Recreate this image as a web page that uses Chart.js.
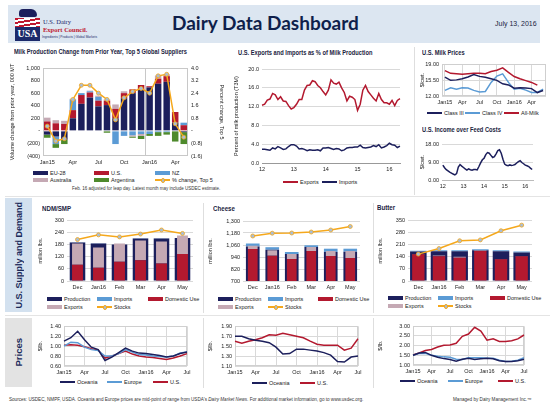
<!DOCTYPE html>
<html><head><meta charset="utf-8">
<script src="https://cdn.jsdelivr.net/npm/chart.js@4.4.1/dist/chart.umd.min.js"></script>
<style>
html,body{margin:0;padding:0}
body{width:553px;height:413px;position:relative;overflow:hidden;background:#fff;font-family:'Liberation Sans Narrow','Arial Narrow','Liberation Sans',Arial,sans-serif;color:#222}
.a{position:absolute;white-space:nowrap}
canvas{position:absolute}
.t{font-weight:bold;font-size:6.5px;color:#1b2340;line-height:8px;transform:scaleX(0.88);transform-origin:0 50%}
.lg{font-size:5.5px;line-height:6px;color:#222}
.sw{position:absolute}
</style></head><body>
<!-- header -->
<div class="a" style="left:8px;top:5px;width:532px;height:38px;background:#dce6f1"></div>
<div class="a" style="left:19px;top:9px;width:18px;height:8px;background:#1c1f5c;border-radius:4px 6px 2px 2px"></div>
<div class="a" style="left:15px;top:18px;width:25px;height:9px;background:repeating-linear-gradient(170deg,#c0182f 0 2px,#fff 2px 4px)"></div>
<div class="a" style="left:15px;top:27px;width:25px;height:14px;background:#1c2a6b;color:#fff;font:bold 10px 'Liberation Serif',serif;text-align:center;line-height:14px">USA</div>
<div class="a" style="left:43px;top:18px;font:6.5px 'Liberation Serif',serif;color:#1c2a6b">U.S. Dairy</div>
<div class="a" style="left:43px;top:26px;font:bold 6.5px 'Liberation Serif',serif;color:#c0182f">Export Council.</div>
<div class="a" style="left:42px;top:35px;font-size:3.2px;color:#1c2a6b">Ingredients | Products | Global Markets</div>
<div class="a" style="left:172px;top:11px;font-family:Lato,'Open Sans',sans-serif;font-weight:bold;font-size:19px;color:#0f1f4b">Dairy Data Dashboard</div>
<div class="a" style="left:495px;top:20px;font-size:7px;color:#1b2340">July 13, 2016</div>

<!-- separators -->
<div class="a" style="left:414px;top:47px;width:1px;height:148px;background:#dedede"></div>
<div class="a" style="left:5px;top:196px;width:545px;height:1px;background:#e4e4e4"></div>
<div class="a" style="left:5px;top:315px;width:545px;height:1px;background:#e4e4e4"></div>
<div class="a" style="left:203px;top:203px;width:1px;height:110px;background:#dedede"></div>
<div class="a" style="left:373px;top:203px;width:1px;height:110px;background:#dedede"></div>
<div class="a" style="left:203px;top:318px;width:1px;height:70px;background:#dedede"></div>
<div class="a" style="left:373px;top:318px;width:1px;height:70px;background:#dedede"></div>

<!-- section boxes -->
<div class="a" style="left:5px;top:198px;width:27px;height:114px;background:#d3e1ef"></div>
<div class="a" style="left:5px;top:198px;width:27px;height:114px;display:flex;align-items:center;justify-content:center"><div style="writing-mode:vertical-rl;transform:rotate(180deg);font-weight:bold;font-size:9px;color:#1b2a5a">U.S. Supply and Demand</div></div>
<div class="a" style="left:5px;top:318px;width:27px;height:69px;background:#e3e3e3"></div>
<div class="a" style="left:5px;top:318px;width:27px;height:69px;display:flex;align-items:center;justify-content:center"><div style="writing-mode:vertical-rl;transform:rotate(180deg);font-weight:bold;font-size:9.5px;color:#1b2a5a">Prices</div></div>

<!-- titles -->
<div class="a t" style="left:14px;top:48px">Milk Production Change from Prior Year, Top 5 Global Suppliers</div>
<div class="a t" style="left:238px;top:49px">U.S. Exports and Imports as % of Milk Production</div>
<div class="a t" style="left:422px;top:49px">U.S. Milk Prices</div>
<div class="a t" style="left:422px;top:126px">U.S. Income over Feed Costs</div>
<div class="a t" style="left:42px;top:205px;font-size:7px">NDM/SMP</div>
<div class="a t" style="left:213px;top:205px;font-size:7px">Cheese</div>
<div class="a t" style="left:377px;top:204px;font-size:7px">Butter</div>
<div class="a" style="left:72px;top:186px;font-size:4.5px;color:#333">Feb. 16 adjusted for leap day. Latest month may include USDEC estimate.</div>

<!-- footer -->
<div class="a" style="left:9px;top:397px;font-size:4.6px;color:#333">Sources: USDEC, NMPF, USDA. Oceania and Europe prices are mid-point of range from USDA's <i>Dairy Market News</i>. For additional market information, go to www.usdec.org.</div>
<div class="a" style="left:453px;top:397px;font-size:4.6px;color:#333">Managed by Dairy Management Inc.™</div>

<script>
// ================= DATA =================
const MON = ['Jan','Feb','Mar','Apr','May','Jun','Jul','Aug','Sep','Oct','Nov','Dec'];

// 1. Milk production change from prior year (000 MT), Jan15..May16
const prodMonths = ['Jan15','Feb','Mar','Apr','May','Jun','Jul','Aug','Sep','Oct','Nov','Dec','Jan16','Feb','Mar','Apr','May'];
const prodTicks  = ['Jan15','','','Apr','','','Jul','','','Oct','','','Jan16','','','Apr',''];
const prodEU  = [-60,-90,-140,200,430,530,390,410,200,520,600,650,690,750,780,130,-20];
const prodUS  = [150,120,110,130,140,80,90,70,150,80,60,80,20,80,90,170,90];
const prodNZ  = [0,-120,0,170,30,20,60,0,-210,-80,-70,-50,-50,-20,-20,0,40];
const prodAUS = [60,50,50,10,0,10,20,20,70,30,-20,-30,0,50,30,0,0];
const prodARG = [-50,-60,-70,0,0,0,0,-30,0,0,-20,-50,-30,-60,-40,-170,-190];
const prodPct = [0.3,-0.65,-0.5,2.0,2.9,2.9,2.4,2.0,0.7,2.1,2.5,2.7,2.4,3.5,3.6,0.45,-0.4];

// 2. Exports / imports as % of milk production (T3M), Jan12..May16
const tradeYears = ['12','13','14','15','16'];
const exportsPct = [12.3,12.5,13.4,13.6,14.8,14.5,13.5,14.1,13.2,13.1,12.2,11.5,
  11.8,12.5,13.5,13.5,15.5,16.5,16.6,17.5,17.3,16.5,16.0,15.2,
  14.5,15.5,17.7,17.0,16.8,17.2,16.0,15.0,13.2,14.2,14.0,13.5,
  11.2,12.5,15.5,16.5,15.2,14.5,13.8,13.2,14.8,13.5,12.8,12.8,
  12.5,13.3,12.2,13.3,13.7];
const importsPct = [2.9,2.9,2.8,2.7,3.2,3.0,3.5,3.2,2.9,3.0,3.5,3.9,
  3.9,3.6,3.0,3.1,2.9,2.6,2.8,2.7,2.7,2.8,2.6,3.2,
  3.2,3.3,3.1,2.9,3.1,3.0,2.6,2.8,3.2,3.3,3.3,3.4,
  3.4,3.8,3.3,3.2,3.3,3.4,3.7,3.5,3.9,3.2,3.4,3.7,
  4.2,3.9,3.8,3.3,3.6];

// 3. U.S. milk prices ($/cwt), Jan15..Jun16
const mpMonths = ['Jan15','Feb','Mar','Apr','May','Jun','Jul','Aug','Sep','Oct','Nov','Dec','Jan16','Feb','Mar','Apr','May','Jun'];
const mpTicks  = ['Jan15','','','Apr','','','Jul','','','Oct','','','Jan16','','','Apr','',''];
const classIII = [16.18,15.46,15.56,15.81,16.19,16.72,16.33,16.14,15.82,15.46,14.69,14.44,13.72,13.80,13.74,13.63,12.76,13.22];
const classIV  = [13.23,13.82,13.51,13.82,13.77,13.24,12.90,13.00,15.00,16.40,16.90,15.00,13.50,13.70,13.30,12.80,12.80,13.50];
const allMilk  = [17.60,17.00,16.90,16.80,16.90,17.00,17.00,16.90,17.40,17.70,18.20,17.20,16.30,15.80,15.40,15.00,14.40];

// 4. Income over feed costs ($/cwt), Jan12..May16
const iofc = [7.5,6.2,5.2,4.6,4.0,3.5,3.0,2.6,3.2,6.5,7.8,7.0,
  6.3,5.6,5.0,5.6,5.2,4.9,5.3,5.3,5.1,6.8,8.6,10.2,
  11.0,12.8,13.8,13.5,12.4,11.3,11.8,13.2,14.8,15.2,13.5,10.5,
  8.0,7.4,7.2,7.6,7.3,7.5,7.8,8.6,9.3,9.7,8.8,8.2,
  7.5,7.2,6.8,6.0,5.3];

// Supply & demand (million lbs.), Dec15..May16
const sdMonths = ['Dec','Jan16','Feb','Mar','Apr','May'];
const ndmProduction = [190,185,180,210,210,212];
const ndmImports    = [1,1,1,1,1,1];
const ndmDomestic   = [80,65,95,103,87,133];
const ndmExports    = [105,100,90,97,108,92];
const ndmStocks     = [205,228,218,232,252,235];

const chzProduction = [1045,1013,970,1040,990,993];
const chzImports    = [30,25,20,17,33,30];
const chzDomestic   = [1020,953,920,1000,950,930];
const chzExports    = [33,54,50,40,50,70];
const chzStocks     = [1150,1178,1180,1190,1210,1245];

const btrProduction = [170,172,172,178,172,165];
const btrImports    = [5,5,5,5,5,5];
const btrDomestic   = [154,142,134,173,125,142];
const btrExports    = [2,5,6,3,2,2];
const btrStocks     = [155,187,232,237,290,322];

// Prices ($/lb.), Jan15..Jul16
const prMonths = ['Jan15','Feb','Mar','Apr','May','Jun','Jul','Aug','Sep','Oct','Nov','Dec','Jan16','Feb','Mar','Apr','May','Jun','Jul'];
const prTicks  = ['Jan15','','','Apr','','','Jul','','','Oct','','','Jan16','','','Apr','','','Jul'];
const ndmOceania = [1.10,1.17,1.30,1.13,0.98,0.93,0.71,0.78,0.87,0.96,0.90,0.86,0.85,0.83,0.81,0.78,0.80,0.85,0.88];
const ndmEurope  = [1.00,1.08,1.07,0.98,0.93,0.91,0.80,0.80,0.85,0.93,0.88,0.83,0.82,0.80,0.79,0.78,0.80,0.86,0.88];
const ndmUS      = [1.02,1.03,1.02,0.99,0.95,0.92,0.76,0.80,0.85,0.90,0.84,0.80,0.78,0.77,0.75,0.73,0.76,0.80,0.85];
const chzOceania = [1.70,1.70,1.65,1.62,1.60,1.57,1.48,1.34,1.35,1.44,1.44,1.42,1.40,1.37,1.32,1.19,1.18,1.28,1.30];
const chzUS      = [1.60,1.56,1.60,1.63,1.67,1.73,1.72,1.76,1.73,1.70,1.67,1.60,1.54,1.52,1.52,1.52,1.42,1.46,1.65];
const btrOceania = [1.50,1.62,1.65,1.50,1.40,1.33,1.28,1.20,1.30,1.35,1.28,1.32,1.35,1.32,1.22,1.18,1.18,1.22,1.30];
const btrEurope  = [1.50,1.60,1.60,1.50,1.45,1.42,1.40,1.30,1.28,1.38,1.38,1.38,1.35,1.35,1.25,1.18,1.20,1.25,1.38];
const btrUS      = [1.52,1.62,1.75,1.80,1.93,2.02,2.03,2.12,2.48,2.60,2.95,2.75,2.28,2.35,2.22,2.22,2.25,2.35,2.55];

// monthly categories (labels only)
const monthsFrom = (y0, n) => { const a=[]; for(let i=0;i<n;i++) a.push(MON[i%12]+String(y0+Math.floor(i/12))); return a; };
const tradeMonths = monthsFrom(12, exportsPct.length);
const iofcMonths  = monthsFrom(12, iofc.length);

// ================= STYLE =================
const FN = "'Liberation Sans Narrow','Arial Narrow','Liberation Sans',Arial,sans-serif";
Chart.defaults.font.family = FN;
Chart.defaults.font.size = 5.5;
Chart.defaults.color = '#222';
Chart.defaults.animation = false;
Chart.defaults.plugins.legend.display = false;
Chart.defaults.plugins.tooltip.enabled = false;

const NAVY='#1c1f5c', RED='#b3192f', LBLUE='#5b9bd5', PALE='#c5a9b4', GREEN='#4e8a2c', ORANGE='#f5a81c', GRID='#d9d9d9', DOT='#aabdd3';

Chart.register({ id:'boxBorder', beforeDatasetsDraw(chart, args, opts){
  if(!opts || !opts.color) return;
  const a=chart.chartArea, c=chart.ctx; c.save(); c.strokeStyle=opts.color; c.lineWidth=1;
  c.strokeRect(Math.round(a.left)+0.5, Math.round(a.top)+0.5, Math.round(a.right-a.left)-1, Math.round(a.bottom-a.top)-1);
  c.restore(); }});

function mk(rect, plot, cfg){
  const [x,y,w,h]=rect, [l,t,r,b]=plot;
  const c=document.createElement('canvas');
  c.width=w; c.height=h; c.style.left=x+'px'; c.style.top=y+'px'; c.style.width=w+'px'; c.style.height=h+'px';
  document.body.appendChild(c);
  const o=cfg.options;
  o.responsive=false; o.maintainAspectRatio=false; o.devicePixelRatio=1;
  const sc=o.scales, hasR=!!sc.y2;
  o.layout={padding:{top:t-y,left:0,bottom:0,right:hasR?0:(x+w-r)}};
  sc.y.afterFit = s=>{s.width=l-x;};
  sc.x.afterFit = s=>{s.height=y+h-b;};
  if(hasR) sc.y2.afterFit = s=>{s.width=x+w-r;};
  return new Chart(c,cfg);
}
function yAx(min,max,step,fmt,title,gridColor){
  return {min,max,ticks:{stepSize:step,padding:3,callback:fmt},
    grid:{color:gridColor===undefined?GRID:gridColor,drawTicks:false},border:{display:false},
    title: title?{display:true,text:title,padding:{top:1,bottom:0}}:{display:false}};
}
function xAx(ticks, opt){
  return Object.assign({ticks:{autoSkip:false,maxRotation:0,padding:3,callback:(v,i)=>ticks[i]},
    grid:{display:false,drawTicks:false},border:{display:false}}, opt||{});
}
const f2 = v=>v.toFixed(2), f1=v=>v.toFixed(1);
const paren = v=> Math.abs(v)<1e-9 ? '-' : (v<0 ? '('+Math.abs(v).toLocaleString('en-US')+')' : v.toLocaleString('en-US'));
const paren1 = v=> Math.abs(v)<1e-9 ? '-' : (v<0 ? '('+Math.abs(v).toFixed(1)+')' : v.toFixed(1));
const line = (label,data,color,extra)=>Object.assign({type:'line',label,data,borderColor:color,backgroundColor:color,borderWidth:1.5,pointRadius:0,tension:0},extra||{});

// ---- 1. Milk production ----
mk([8,60,218,108],[43,68,188,156],{
  data:{labels:prodMonths,datasets:[
    line('% change, Top 5',prodPct,ORANGE,{yAxisID:'y2',order:0,pointRadius:2,pointBackgroundColor:DOT,pointBorderColor:ORANGE,pointBorderWidth:0.8}),
    {type:'bar',label:'EU-28',data:prodEU,backgroundColor:NAVY,order:1},
    {type:'bar',label:'U.S.',data:prodUS,backgroundColor:RED,order:1},
    {type:'bar',label:'NZ',data:prodNZ,backgroundColor:LBLUE,order:1},
    {type:'bar',label:'Australia',data:prodAUS,backgroundColor:PALE,order:1},
    {type:'bar',label:'Argentina',data:prodARG,backgroundColor:GREEN,order:1}]},
  options:{datasets:{bar:{barPercentage:0.76,categoryPercentage:1}},
    plugins:{boxBorder:{color:'#c8c8c8'}},
    scales:{
      x:xAx(prodTicks,{stacked:true,offset:true,grid:{display:true,offset:true,drawTicks:false,color:c=>c.index===12?'#c8c8c8':'rgba(0,0,0,0)'}}),
      y:Object.assign(yAx(-400,1000,200,paren,'Volume change from prior year, 000 MT','rgba(0,0,0,0)'),{stacked:true,position:'left'}),
      y2:Object.assign(yAx(-1.6,4.0,0.8,paren1,'Percent change, Top 5','rgba(0,0,0,0)'),{position:'right'})
    }}
});

// ---- 2. Exports / imports ----
mk([232,60,176,116],[262,69,400,163],{
  type:'line',
  data:{labels:tradeMonths,datasets:[line('Exports',exportsPct,RED),line('Imports',importsPct,NAVY)]},
  options:{scales:{
    x:xAx(tradeYears.flatMap(y=>[y,'','','','','','','','','','','']),{border:{display:true,color:'#999'}}),
    y:yAx(0,20,4,f1,'Percent of milk production (T3M)')}}
});

// ---- 3. Milk prices ----
mk([418,58,132,50],[442,64,546,96],{
  type:'line',
  data:{labels:mpMonths,datasets:[line('Class III',classIII,NAVY),line('Class IV',classIV,LBLUE),line('All-Milk',allMilk,RED)]},
  options:{plugins:{boxBorder:{color:'#cfcfcf'}},scales:{
    x:xAx(mpTicks,{offset:true,grid:{display:true,offset:false,drawTicks:false,color:c=>c.index%3===0?GRID:'rgba(0,0,0,0)'}}),
    y:yAx(12,19,1.75,f2,'$/cwt.')}}
});

// ---- 4. IOFC ----
mk([418,138,132,53],[442,144,533,180],{
  type:'line',
  data:{labels:iofcMonths,datasets:[line('Income over feed costs',iofc,NAVY)]},
  options:{scales:{
    x:xAx(tradeYears.flatMap(y=>[y,'','','','','','','','','','','']),{offset:true,border:{display:true,color:'#bbb'}}),
    y:yAx(0,18,4.5,f2,'$/cwt.')}}
});

// ---- Supply & demand ----
function sd(rect,plot,min,max,step,fmt,prod,imp,dom,exp,stk,wide,narrow){
  return mk(rect,plot,{
    data:{labels:sdMonths,datasets:[
      line('Stocks',stk,ORANGE,{order:0,pointRadius:2,pointBackgroundColor:DOT,pointBorderColor:ORANGE,pointBorderWidth:0.8}),
      {type:'bar',label:'Domestic Use',data:dom,backgroundColor:RED,stack:'d',order:1,barPercentage:narrow},
      {type:'bar',label:'Exports',data:exp,backgroundColor:PALE,stack:'d',order:1,barPercentage:narrow},
      {type:'bar',label:'Production',data:prod,backgroundColor:NAVY,stack:'s',order:2,barPercentage:wide},
      {type:'bar',label:'Imports',data:imp,backgroundColor:LBLUE,stack:'s',order:2,barPercentage:wide}]},
    options:{datasets:{bar:{grouped:false,categoryPercentage:1}},scales:{
      x:xAx(sdMonths,{offset:true}),
      y:Object.assign(yAx(min,max,step,fmt,'million lbs.'),{stacked:true})}}
  });
}
sd([36,214,164,80],[67,220,193,281],0,300,60,v=>String(v),ndmProduction,ndmImports,ndmDomestic,ndmExports,ndmStocks,0.74,0.52);
sd([206,214,162,80],[243,221,360,281],700,1300,120,v=>v.toLocaleString('en-US'),chzProduction,chzImports,chzDomestic,chzExports,chzStocks,0.7,0.5);
sd([376,214,174,80],[408,220,532,281],0,350,70,v=>String(v),btrProduction,btrImports,btrDomestic,btrExports,btrStocks,0.8,0.6);

// ---- Prices ----
function pr(rect,plot,min,max,step,sets){
  return mk(rect,plot,{
    type:'line',
    data:{labels:prMonths,datasets:sets},
    options:{plugins:{boxBorder:{color:'#d0d0d0'}},scales:{
      x:xAx(prTicks,{grid:{display:true,drawTicks:false,color:c=>c.index%3===0?GRID:'rgba(0,0,0,0)'}}),
      y:yAx(min,max,step,f2,'$/lb.')}}
  });
}
pr([36,320,164,58],[64,325,187,366],0.6,1.4,0.2,[line('Oceania',ndmOceania,NAVY),line('Europe',ndmEurope,LBLUE),line('U.S.',ndmUS,RED)]);
pr([206,320,164,58],[235,324,358,366],1.1,1.9,0.2,[line('Oceania',chzOceania,NAVY),line('U.S.',chzUS,RED)]);
pr([376,320,174,58],[413,325,524,365],1.0,3.0,0.5,[line('Oceania',btrOceania,NAVY),line('Europe',btrEurope,LBLUE),line('U.S.',btrUS,RED)]);

// ================= HTML LEGENDS =================
function leg(x,y,kind,color,text){
  const d=document.createElement('div'); d.className='a lg'; d.style.left=x+'px'; d.style.top=(y-3)+'px';
  let sw='';
  if(kind==='bar') sw=`<span class="sw" style="left:0;top:1px;width:15px;height:4px;background:${color}"></span>`;
  else sw=`<span class="sw" style="left:0;top:2.2px;width:15px;height:1.6px;background:${color}"></span>`+
    (kind==='dot'?`<span class="sw" style="left:5.5px;top:1px;width:2.6px;height:2.6px;border-radius:50%;background:${DOT};border:0.6px solid ${color}"></span>`:'');
  d.innerHTML=sw+`<span style="margin-left:17px">${text}</span>`;
  document.body.appendChild(d);
}
leg(33,173,'bar',NAVY,'EU-28'); leg(94,173,'bar',RED,'U.S.'); leg(155,173,'bar',LBLUE,'NZ');
leg(33,180,'bar',PALE,'Australia'); leg(94,180,'bar',GREEN,'Argentina'); leg(155,180,'dot',ORANGE,'% change, Top 5');
leg(283,182,'line',RED,'Exports'); leg(322,182,'line',NAVY,'Imports');
leg(427,113,'line',NAVY,'Class III'); leg(465,113,'line',LBLUE,'Class IV'); leg(504,113,'line',RED,'All-Milk');
[[47,97,148,299,307],[218,268,318,299,307],[388,438,490,298,306]].forEach(([a,b,c,r1,r2])=>{
  leg(a,r1,'bar',NAVY,'Production'); leg(b,r1,'bar',LBLUE,'Imports'); leg(c,r1,'bar',RED,'Domestic Use');
  leg(a,r2,'bar',PALE,'Exports'); leg(b,r2,'dot',ORANGE,'Stocks');
});
leg(60,382,'line',NAVY,'Oceania'); leg(107,382,'line',LBLUE,'Europe'); leg(153,382,'line',RED,'U.S.');
leg(252,383,'line',NAVY,'Oceania'); leg(300,383,'line',RED,'U.S.');
leg(400,381,'line',NAVY,'Oceania'); leg(448,381,'line',LBLUE,'Europe'); leg(498,381,'line',RED,'U.S.');
</script>
</body></html>
